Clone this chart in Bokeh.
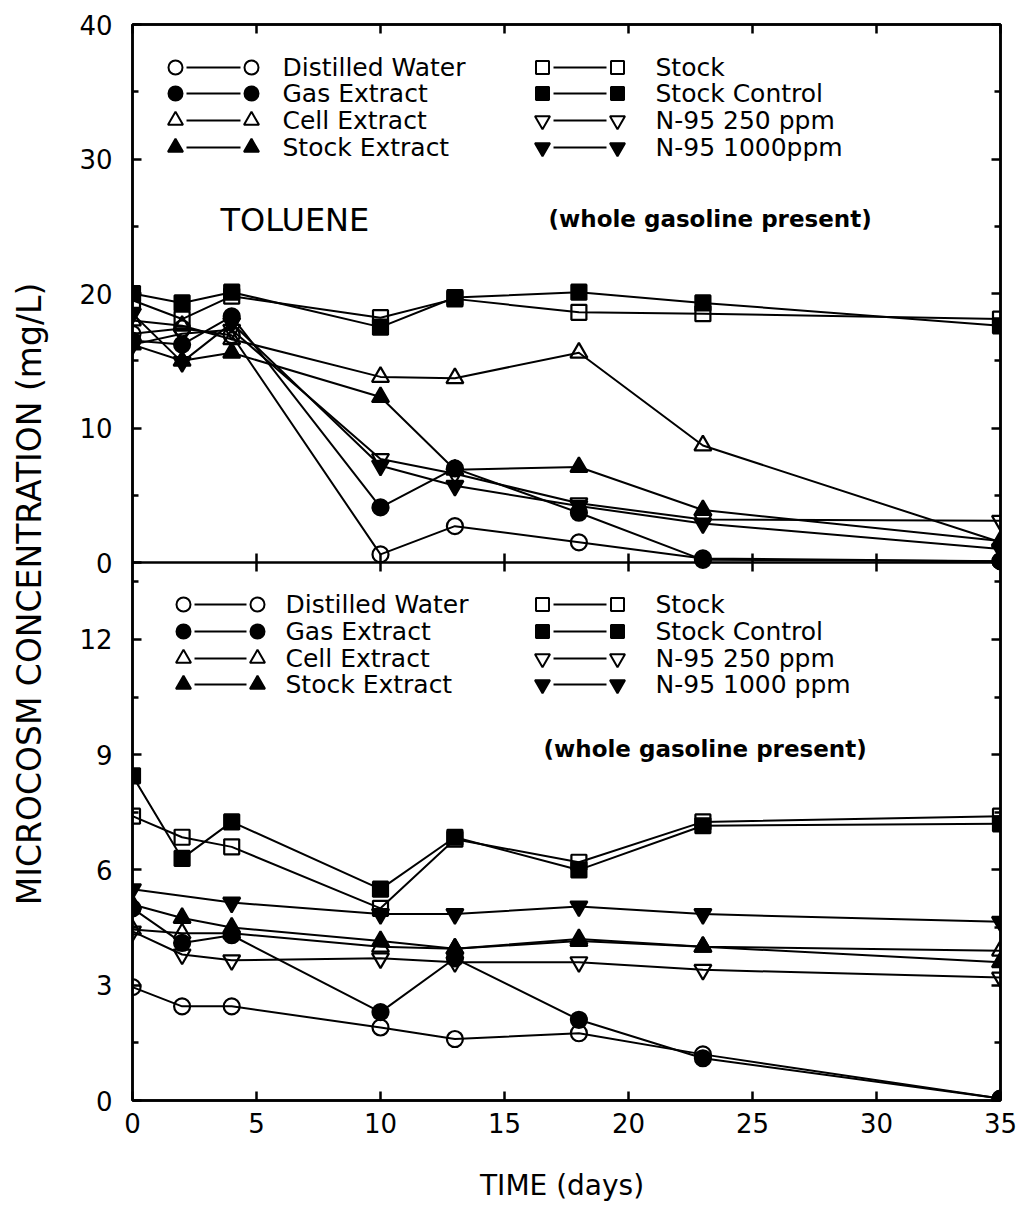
from math import pi
from bokeh.plotting import figure
from bokeh.models import Range1d, LinearAxis, FixedTicker, Span
from bokeh.core.properties import value
from bokeh.embed import file_html
from bokeh.resources import INLINE

# ---------------- data ----------------
days = [0, 2, 4, 10, 13, 18, 23, 35]

# top panel: toluene (mg/L)
top_distilled = [17.0, 17.4, 16.9, 0.6, 2.7, 1.5, 0.3, 0.1]
top_gas = [16.5, 16.2, 18.3, 4.1, 7.0, 3.7, 0.2, 0.1]
top_cell = [18.0, 17.6, 16.6, 13.8, 13.7, 15.6, 8.7, 1.5]
top_stockext = [16.2, 15.0, 15.6, 12.3, 6.9, 7.1, 3.9, 1.6]
top_stock = [19.5, 18.1, 19.8, 18.2, 19.6, 18.6, 18.5, 18.1]
top_stockctl = [20.0, 19.3, 20.1, 17.5, 19.7, 20.1, 19.3, 17.6]
top_n250 = [16.2, 17.0, 17.3, 7.7, 6.6, 4.4, 3.2, 3.1]
top_n1000 = [18.5, 14.9, 17.8, 7.2, 5.7, 4.2, 2.9, 1.0]

# bottom panel (mg/L)
bot_distilled = [2.95, 2.45, 2.45, 1.9, 1.6, 1.75, 1.2, 0.05]
bot_gas = [5.0, 4.1, 4.3, 2.3, 3.7, 2.1, 1.1, 0.05]
bot_cell = [4.45, 4.35, 4.35, 4.0, 3.95, 4.15, 4.0, 3.9]
bot_stockext = [5.1, 4.75, 4.5, 4.15, 3.95, 4.2, 4.0, 3.6]
bot_stock = [7.4, 6.85, 6.6, 5.0, 6.8, 6.2, 7.25, 7.4]
bot_stockctl = [8.45, 6.3, 7.25, 5.5, 6.85, 6.0, 7.15, 7.2]
bot_n250 = [4.4, 3.8, 3.65, 3.7, 3.6, 3.6, 3.4, 3.2]
bot_n1000 = [5.5, None, 5.15, 4.85, 4.85, 5.05, 4.85, 4.65]

series_labels = ["Distilled Water", "Gas Extract", "Cell Extract", "Stock Extract",
                 "Stock", "Stock Control", "N-95 250 ppm", "N-95 1000ppm"]
series_labels_bottom = ["Distilled Water", "Gas Extract", "Cell Extract", "Stock Extract",
                        "Stock", "Stock Control", "N-95 250 ppm", "N-95 1000 ppm"]

x_ticks = [0, 5, 10, 15, 20, 25, 30, 35]
top_ticks = [0, 10, 20, 30, 40]
top_minor = [5, 15, 25, 35]
bot_ticks = [0, 3, 6, 9, 12]
bot_minor = [1.5, 4.5, 7.5, 10.5, 13.5]

TOP_MAX = 40
BOT_MAX = 14
X_MAX = 35

# ---------------- styles ----------------
markers = ["circle", "circle", "triangle", "triangle",
           "square", "square", "inverted_triangle", "inverted_triangle"]
filled = [False, True, False, True, False, True, False, True]
msize = {"circle": 16, "triangle": 17, "square": 15, "inverted_triangle": 17}
FONT = "DejaVu Sans"

BL, BR, BT, BB = 132, 20, 24, 110
FW, FH = 868, 1076
W = BL + FW + BR
H = BT + FH + BB

p = figure(width=W, height=H, x_range=Range1d(0, X_MAX), y_range=Range1d(0, 2 * BOT_MAX),
           output_backend="svg", toolbar_location=None,
           x_axis_location=None, y_axis_location=None,
           min_border_left=BL, min_border_right=BR, min_border_top=BT, min_border_bottom=BB)
p.extra_y_ranges = {"top": Range1d(-TOP_MAX, TOP_MAX)}
p.xgrid.visible = False
p.ygrid.visible = False
p.outline_line_color = "black"
p.outline_line_width = 2.5
p.background_fill_color = "white"
p.border_fill_color = "white"

# combined y ticks: bottom panel on default range, top panel mapped into upper half
def top_to_default(v):
    return BOT_MAX + v * BOT_MAX / TOP_MAX

y_major = list(bot_ticks) + [top_to_default(t) for t in top_ticks]
y_minor = list(bot_minor) + [top_to_default(t) for t in top_minor]
overrides = {}
for t in bot_ticks:
    overrides[float(t)] = str(t)
for t in top_ticks:
    overrides[float(top_to_default(t))] = str(t)

def style_axis(ax, labels=True):
    ax.axis_line_width = 2.5
    ax.axis_line_color = "black"
    ax.major_tick_in = 9
    ax.major_tick_out = 0
    ax.minor_tick_in = 6
    ax.minor_tick_out = 0
    ax.major_tick_line_width = 2.5
    ax.minor_tick_line_width = 2.5
    ax.major_label_text_font = FONT
    ax.major_label_text_font_size = "26px"
    ax.major_label_text_color = "black" if labels else None

left = LinearAxis(ticker=FixedTicker(ticks=y_major, minor_ticks=y_minor),
                  major_label_overrides=overrides)
style_axis(left)
left.major_label_standoff = 20
p.add_layout(left, "left")

# page-pixel helpers for annotation layout
FRAME_LEFT = BL
FRAME_TOP = BT
MID = FRAME_TOP + FH // 2
FRAME_BOTTOM = FRAME_TOP + FH

def dx(px):
    return (px - FRAME_LEFT) * X_MAX / FW

def dy_top(py):
    return (MID - py) * TOP_MAX / (FH / 2)

def dy_bot(py):
    return (FRAME_BOTTOM - py) * BOT_MAX / (FH / 2)

# outer left axis carrying only the shared axis title (padding moves it below centre)
title_axis = LinearAxis(ticker=FixedTicker(ticks=[], minor_ticks=[]),
                        axis_label="MICROCOSM CONCENTRATION (mg/L)" + "\u00a0" * 6)
title_axis.axis_line_color = None
title_axis.major_tick_line_color = None
title_axis.minor_tick_line_color = None
title_axis.major_tick_out = 0
title_axis.minor_tick_out = 0
title_axis.major_label_text_font_size = "0px"
title_axis.major_label_standoff = 0
title_axis.axis_label_standoff = 28
title_axis.axis_label_text_font = FONT
title_axis.axis_label_text_font_size = "33px"
title_axis.axis_label_text_font_style = "normal"
title_axis.axis_label_text_color = "black"
p.add_layout(title_axis, "left")

right = LinearAxis(ticker=FixedTicker(ticks=y_major, minor_ticks=y_minor))
style_axis(right, labels=False)
right.major_label_text_font_size = "0px"
right.major_label_standoff = 0
p.add_layout(right, "right")

below = LinearAxis(ticker=FixedTicker(ticks=x_ticks, minor_ticks=[]),
                   axis_label="TIME  (days)")
style_axis(below)
below.major_label_standoff = 12
below.axis_label_standoff = 33
below.axis_label_text_font = FONT
below.axis_label_text_font_size = "28px"
below.axis_label_text_font_style = "normal"
below.axis_label_text_color = "black"
p.add_layout(below, "below")

above = LinearAxis(ticker=FixedTicker(ticks=x_ticks, minor_ticks=[]))
style_axis(above, labels=False)
above.major_label_text_font_size = "0px"
above.major_label_standoff = 0
p.add_layout(above, "above")

# divider between panels
p.add_layout(Span(location=BOT_MAX, dimension="width", line_color="black", line_width=2.5))
p.scatter(x_ticks[1:-1], [BOT_MAX] * (len(x_ticks) - 2), marker="dash", angle=pi / 2,
          size=18, line_color="black", line_width=2.5)

# ---------------- series ----------------
top_series = [top_distilled, top_gas, top_cell, top_stockext,
              top_stock, top_stockctl, top_n250, top_n1000]
bot_series = [bot_distilled, bot_gas, bot_cell, bot_stockext,
              bot_stock, bot_stockctl, bot_n250, bot_n1000]

def clean(vals):
    xs = [d for d, v in zip(days, vals) if v is not None]
    ys = [v for v in vals if v is not None]
    return xs, ys

for vals in top_series:
    xs, ys = clean(vals)
    p.line(xs, ys, y_range_name="top", line_color="black", line_width=2)
for vals in bot_series:
    xs, ys = clean(vals)
    p.line(xs, ys, line_color="black", line_width=2)

for i, vals in enumerate(top_series):
    xs, ys = clean(vals)
    m = markers[i]
    p.scatter(xs, ys, y_range_name="top", marker=m, size=msize[m],
              fill_color="black" if filled[i] else None,
              line_color="black", line_width=2.2)
for i, vals in enumerate(bot_series):
    xs, ys = clean(vals)
    m = markers[i]
    p.scatter(xs, ys, marker=m, size=msize[m],
              fill_color="black" if filled[i] else None,
              line_color="black", line_width=2.2)

# ---------------- legends & annotations ----------------
def draw_legend(labels, rows, cols, ymap, rng):
    for i, lab in enumerate(labels):
        col = cols[i // 4]
        ry = ymap(rows[i % 4])
        m1, m2, tx = col
        m = markers[i]
        kw = dict(y_range_name=rng) if rng else {}
        p.line([dx(m1 + 11), dx(m2 - 11)], [ry, ry], line_color="black", line_width=2, **kw)
        p.scatter([dx(m1), dx(m2)], [ry, ry], marker=m, size=msize[m] - 2,
                  fill_color="black" if filled[i] else None,
                  line_color="black", line_width=2, **kw)
        p.text([dx(tx)], [ry], text=[lab], text_font=value(FONT), text_font_size="25px",
               text_align="left", text_baseline="middle", text_color="black", **kw)

draw_legend(series_labels, [67, 93, 120, 147],
            [(175, 251, 282), (542, 617, 655)], dy_top, "top")
draw_legend(series_labels_bottom, [604, 631, 658, 684],
            [(183, 257, 285), (542, 617, 655)], dy_bot, None)

p.text([dx(220)], [dy_top(219)], text=["TOLUENE"], y_range_name="top",
       text_font=value(FONT), text_font_size="32px", text_align="left",
       text_baseline="middle", text_color="black")
p.text([dx(548)], [dy_top(218)], text=["(whole gasoline present)"], y_range_name="top",
       text_font=value(FONT), text_font_size="23px", text_font_style="bold",
       text_align="left", text_baseline="middle", text_color="black")
p.text([dx(543)], [dy_bot(748)], text=["(whole gasoline present)"],
       text_font=value(FONT), text_font_size="23px", text_font_style="bold",
       text_align="left", text_baseline="middle", text_color="black")

open("out.html", "w").write(file_html(p, INLINE))
